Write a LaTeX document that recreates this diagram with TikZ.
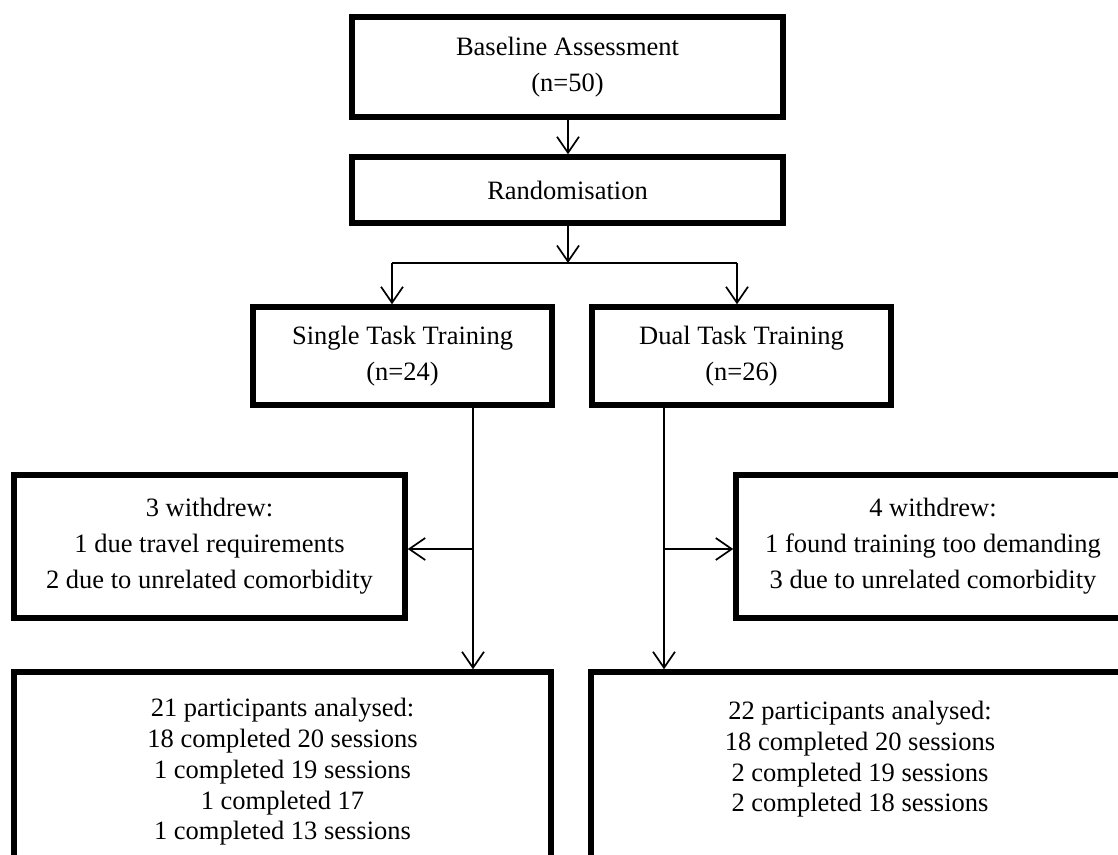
\documentclass[tikz,border=0pt]{standalone}
\usepackage{fontspec}
\setmainfont{Liberation Serif}
\usetikzlibrary{arrows.meta,shapes}
\tikzset{
  box/.style={draw, line width=5.5pt, inner sep=0pt, align=center,
    font=\fontsize{26.5}{36}\selectfont},
  outbox/.style={box, font=\fontsize{26.5}{30.75}\selectfont},
  arr/.style={line width=1.7pt, -{Straight Barb[length=16pt,width=22pt,line width=1.7pt]}},
  link/.style={line width=1.7pt}
}
\begin{document}
\begin{tikzpicture}[x=1pt,y=-1pt]
        \useasboundingbox (0,0) rectangle (1118,854);
        \clip (0,0) rectangle (1118,854);
        \node[box, minimum width=431pt, minimum height=100pt] (base) at (567.5,67) {Baseline Assessment\\(n=50)};
        \node[box, minimum width=431pt, minimum height=66pt] (rand) at (567.5,190) {Randomisation};
        \node[box, minimum width=299pt, minimum height=98pt] (single) at (402.5,356) {Single Task Training\\(n=24)};
        \node[box, minimum width=299pt, minimum height=98pt] (dual) at (741.5,356) {Dual Task Training\\(n=26)};
        \node[box, minimum width=391pt, minimum height=143pt] (leftout) at (209.5,546.5) {3 withdrew:\\1 due travel requirements\\2 due to unrelated comorbidity};
        \node[box, minimum width=394pt, minimum height=143pt] (rightout) at (933,546.5) {4 withdrew:\\1 found training too demanding\\3 due to unrelated comorbidity};
        \node[outbox, minimum width=537pt, minimum height=200pt] (leftres) at (282.5,772) {21 participants analysed:\\18 completed 20 sessions\\1 completed 19 sessions\\1 completed 17\\1 completed 13 sessions};
        \node[outbox, minimum width=538pt, minimum height=200pt] (rightres) at (860,772) {22 participants analysed:\\18 completed 20 sessions\\2 completed 19 sessions\\2 completed 18 sessions\\\mbox{}};
        \coordinate (split) at (568,263);
        \coordinate (lt) at (392,263);
        \coordinate (rt) at (737,263);
        \coordinate (ls) at (473,549);
        \coordinate (rs) at (664,549);
        \draw[arr] (base.south -| split) -- (rand.north -| split);
        \draw[arr] (rand.south -| split) -- (split);
        \draw[link] (lt) -- (rt);
        \draw[arr] (lt) -- (lt |- single.north);
        \draw[arr] (rt) -- (rt |- dual.north);
        \draw[arr] (single.south -| ls) -- (ls |- leftres.north);
        \draw[arr] (ls) -- (ls -| leftout.east);
        \draw[arr] (dual.south -| rs) -- (rs |- rightres.north);
        \draw[arr] (rs) -- (rs -| rightout.west);
    \end{tikzpicture}
\end{document}
